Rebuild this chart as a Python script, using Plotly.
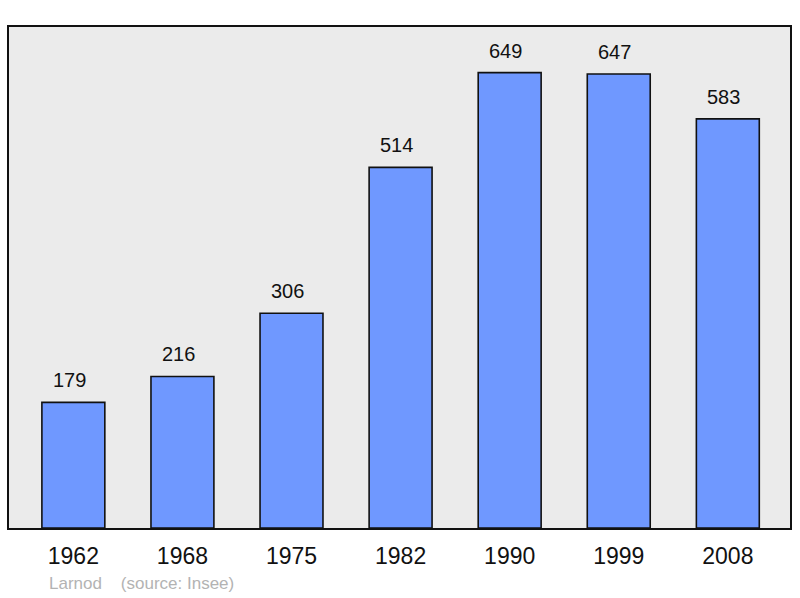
import plotly.graph_objects as go

years = ["1962", "1968", "1975", "1982", "1990", "1999", "2008"]
population = [179, 216, 306, 514, 649, 647, 583]
commune = "Larnod"
source = "(source: Insee)"

fig = go.Figure()
fig.add_trace(go.Bar(
    x=years, y=population, width=0.577,
    marker=dict(color="#6f98ff", line=dict(color="#111111", width=1.6)),
    hoverinfo="skip",
))
for i, v in enumerate(population):
    fig.add_annotation(x=i, y=v, text=str(v), showarrow=False, yanchor="middle",
                       yshift=22, xshift=-4, font=dict(size=20, color="#111111"))

fig.add_annotation(xref="paper", yref="paper", x=(47 - 9) / 783, y=-(583 - 528) / 501,
                   xanchor="left", yanchor="middle", showarrow=False,
                   text=commune + "&nbsp;&nbsp;&nbsp;&nbsp;" + source,
                   font=dict(size=17, color="#b3b3b3"))

fig.update_layout(
    width=800, height=598,
    margin=dict(l=9, r=8, t=27, b=70),
    paper_bgcolor="white", plot_bgcolor="#ebebeb",
    font=dict(family="Liberation Sans, Arial, sans-serif", color="#111111"),
    showlegend=False,
    xaxis=dict(type="category", range=[-0.59, 6.57], showgrid=False,
               showline=True, linecolor="#111111", linewidth=2, mirror=True,
               ticks="outside", ticklen=6, tickcolor="rgba(0,0,0,0)",
               tickfont=dict(size=23, color="#111111"), fixedrange=True),
    yaxis=dict(range=[0, 714], showgrid=False, zeroline=False,
               showline=True, linecolor="#111111", linewidth=2, mirror=True,
               showticklabels=False, ticks="", fixedrange=True),
)
fig.write_html("out.html", config={"displayModeBar": False},
               post_script="document.body.style.margin='0';")
